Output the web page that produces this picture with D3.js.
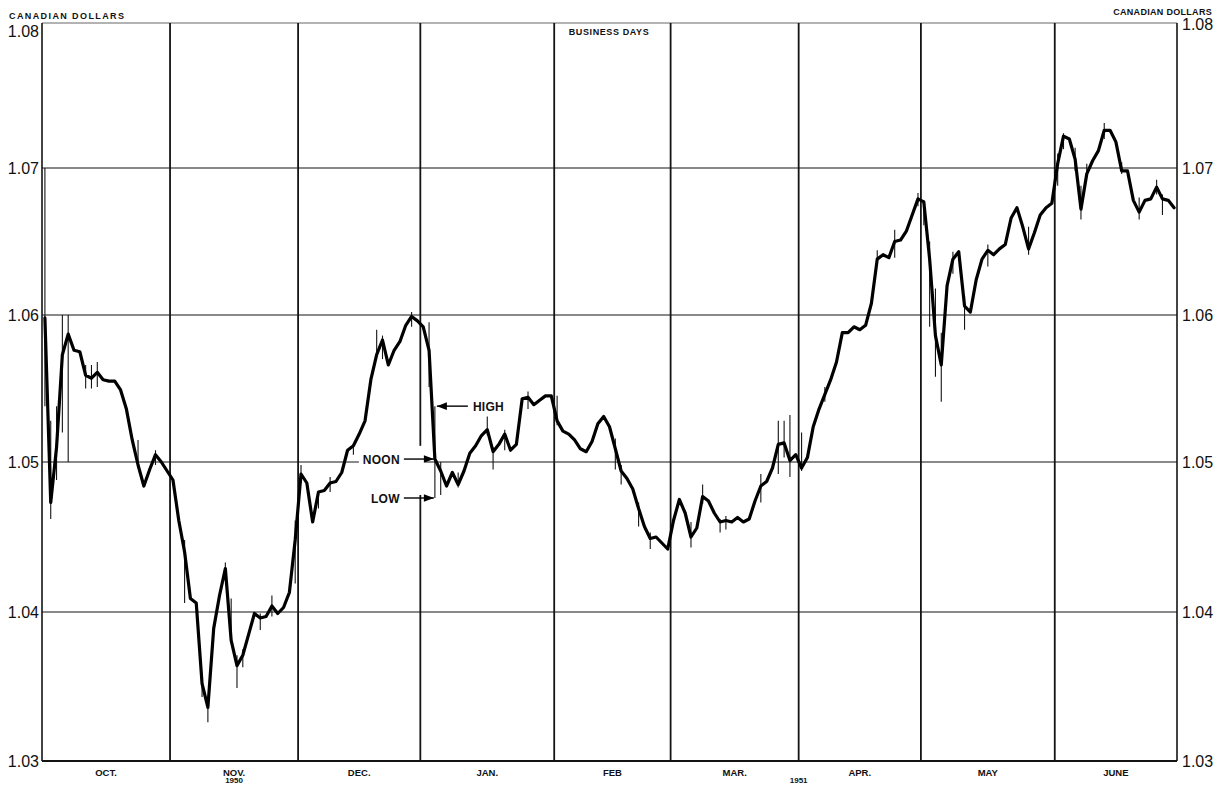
<!DOCTYPE html>
<html><head><meta charset="utf-8">
<script src="https://cdn.jsdelivr.net/npm/d3@7"></script>
<style>
body{margin:0;background:#fff;}
svg{display:block;font-family:"Liberation Sans",Arial,sans-serif;}
</style>
</head><body>
<svg id="chart" width="1220" height="785"></svg>
<script>
// ---------- DATA ----------
const months = ["OCT.","NOV.","DEC.","JAN.","FEB","MAR.","APR.","MAY","JUNE"];
const monthDays = [22,22,21,23,20,22,21,23,21];          // business days per month
const yearLabels = ["1950","1951"];
const yearDays = [33, 130];                               // business-day position of year labels
const yTicks = [1.03,1.04,1.05,1.06,1.07,1.08];
const yTickLabels = ["1.03","1.04","1.05","1.06","1.07","1.08"];

// noon rates, one per business day
const noonOct = [1.0598,1.0473,1.0510,1.0573,1.0587,1.0576,1.0575,1.0559,1.0557,1.0561,1.0556,1.0555,1.0555,1.0549,1.0536,1.0515,1.0498,1.0484,1.0495,1.0505,1.0500,1.0494];
const noonNov = [1.0488,1.0461,1.0440,1.0409,1.0406,1.0352,1.0336,1.0389,1.0411,1.0429,1.0381,1.0364,1.0371,1.0385,1.0399,1.0396,1.0397,1.0404,1.0399,1.0403,1.0413,1.0448];
const noonDec = [1.0492,1.0486,1.0460,1.0480,1.0481,1.0486,1.0487,1.0493,1.0508,1.0511,1.0519,1.0528,1.0556,1.0573,1.0583,1.0566,1.0576,1.0582,1.0593,1.0599,1.0596];
const noonJan = [1.0592,1.0576,1.0502,1.0494,1.0484,1.0493,1.0485,1.0494,1.0506,1.0511,1.0518,1.0522,1.0507,1.0512,1.0519,1.0508,1.0512,1.0543,1.0544,1.0539,1.0542,1.0545,1.0545];
const noonFeb = [1.0528,1.0521,1.0519,1.0515,1.0509,1.0507,1.0514,1.0526,1.0531,1.0524,1.0509,1.0494,1.0489,1.0482,1.0469,1.0457,1.0449,1.0450,1.0446,1.0442];
const noonMar = [1.0461,1.0475,1.0466,1.0450,1.0456,1.0477,1.0474,1.0466,1.0460,1.0461,1.0460,1.0463,1.0460,1.0462,1.0474,1.0484,1.0487,1.0496,1.0512,1.0513,1.0501,1.0505];
const noonApr = [1.0496,1.0503,1.0524,1.0536,1.0546,1.0556,1.0568,1.0588,1.0588,1.0592,1.0590,1.0593,1.0608,1.0638,1.0641,1.0639,1.0650,1.0651,1.0657,1.0668,1.0679];
const noonMay = [1.0677,1.0638,1.0586,1.0566,1.0620,1.0638,1.0643,1.0606,1.0602,1.0624,1.0638,1.0644,1.0641,1.0645,1.0648,1.0666,1.0673,1.0660,1.0645,1.0656,1.0668,1.0673,1.0676];
const noonJun = [1.0703,1.0722,1.0720,1.0706,1.0672,1.0696,1.0705,1.0712,1.0726,1.0726,1.0718,1.0698,1.0698,1.0678,1.0670,1.0678,1.0679,1.0687,1.0679,1.0678,1.0673];

// visible high-low ranges (business-day index, low, high)
const rangeDays  = [0,1,2,3,4,7,8,9,16,19,24,27,28,31,32,33,34,37,39,43,44,47,49,53,57,58,63,66,67,68,71,76,77,79,83,88,98,99,102,104,111,113,116,117,123,126,127,128,130,134,143,146,150,151,152,153,154,156,158,162,169,174,175,177,178,179,182,185,188,191,192];
const rangeLows  = [1.0538,1.0462,1.0488,1.0520,1.0500,1.0550,1.0550,1.0551,1.0496,1.0498,1.0406,1.0343,1.0326,1.0424,1.0379,1.0349,1.0363,1.0388,1.0397,1.0419,1.0486,1.0469,1.0480,1.0505,1.0572,1.0570,1.0592,1.0551,1.0476,1.0478,1.0483,1.0518,1.0495,1.0508,1.0536,1.0525,1.0495,1.0485,1.0457,1.0442,1.0443,1.0472,1.0453,1.0455,1.0473,1.0492,1.0503,1.0490,1.0494,1.0541,1.0636,1.0639,1.0674,1.0661,1.0592,1.0558,1.0541,1.0628,1.0590,1.0633,1.0641,1.0688,1.0713,1.0698,1.0665,1.0694,1.0720,1.0696,1.0665,1.0682,1.0668];
const rangeHighs = [1.0700,1.0528,1.0538,1.0600,1.0600,1.0566,1.0566,1.0568,1.0515,1.0508,1.0448,1.0357,1.0339,1.0433,1.0409,1.0371,1.0375,1.0399,1.0411,1.0461,1.0498,1.0480,1.0490,1.0512,1.0590,1.0586,1.0602,1.0595,1.0538,1.0500,1.0493,1.0531,1.0510,1.0522,1.0548,1.0545,1.0516,1.0498,1.0473,1.0453,1.0460,1.0485,1.0462,1.0464,1.0492,1.0528,1.0528,1.0532,1.0520,1.0551,1.0644,1.0658,1.0683,1.0678,1.0650,1.0618,1.0588,1.0643,1.0613,1.0648,1.0660,1.0710,1.0724,1.0714,1.0688,1.0703,1.0731,1.0704,1.0680,1.0692,1.0682];

// annotation
const annotDay = 67;
const annotLabels = ["HIGH","NOON","LOW"];

// ---------- CHART ----------
const noon = [].concat(noonOct,noonNov,noonDec,noonJan,noonFeb,noonMar,noonApr,noonMay,noonJun);
const totalDays = d3.sum(monthDays);
const bounds = [0].concat(Array.from(d3.cumsum(monthDays)));

const svg = d3.select("#chart");
const X0 = 42, X1 = 1177;
const x = d3.scaleLinear().domain([0,totalDays]).range([X0,X1]);
const y = d3.scaleLinear().domain(yTicks).range([761,612,462,315,168,23]);
const ink = "#141414";

// horizontal grid
svg.append("g").selectAll("line").data(yTicks).join("line")
  .attr("x1",X0).attr("x2",X1)
  .attr("y1",d=>y(d)).attr("y2",d=>y(d))
  .attr("stroke",(d,i)=> i===yTicks.length-1 ? "#666" : ink)
  .attr("stroke-width",(d,i)=> i===0 ? 2.2 : (i===yTicks.length-1 ? 1 : 1.2));

// vertical month lines and borders
svg.append("g").selectAll("line").data(bounds).join("line")
  .attr("x1",d=>x(d)).attr("x2",d=>x(d))
  .attr("y1",y(1.08)).attr("y2",y(1.03))
  .attr("stroke",ink)
  .attr("stroke-width",(d,i)=> (i===0||i===bounds.length-1) ? 1.6 : 1.8);

// white background behind the noon/low labels (interrupts grid)
const aX = x(annotDay+0.5);
svg.append("rect").attr("x",aX-76).attr("y",y(1.0498)-12).attr("width",66).attr("height",36).attr("fill","#fff");
svg.append("rect").attr("x",x(65)-4).attr("y",y(1.0511)).attr("width",8).attr("height",y(1.0478)-y(1.0511)).attr("fill","#fff");

// high-low bars
svg.append("g").selectAll("line").data(rangeDays).join("line")
  .attr("x1",d=>x(d+0.5)).attr("x2",d=>x(d+0.5))
  .attr("y1",(d,i)=>y(rangeLows[i])).attr("y2",(d,i)=>y(rangeHighs[i]))
  .attr("stroke",ink).attr("stroke-width",1.1);

// noon line
svg.append("path").datum(noon)
  .attr("d", d3.line().x((d,i)=>x(i+0.5)).y(d=>y(d)))
  .attr("fill","none").attr("stroke","#000").attr("stroke-width",3.2)
  .attr("stroke-linejoin","round").attr("stroke-linecap","round");

// y labels
const yl = svg.append("g").attr("font-size",16).attr("fill","#111");
yl.selectAll("text.l").data(yTicks).join("text").attr("class","l")
  .attr("x",39).attr("text-anchor","end")
  .attr("y",(d,i)=> i===yTicks.length-1 ? 37 : y(d)+6)
  .text((d,i)=>yTickLabels[i]);
yl.selectAll("text.r").data(yTicks).join("text").attr("class","r")
  .attr("x",1182).attr("text-anchor","start")
  .attr("y",(d,i)=> i===yTicks.length-1 ? 30 : y(d)+6)
  .text((d,i)=>yTickLabels[i]);

// titles
svg.append("text").attr("x",9).attr("y",19).attr("font-size",9).attr("font-weight","bold")
  .attr("letter-spacing",1.4).attr("fill","#111").text("CANADIAN DOLLARS");
svg.append("text").attr("x",1212).attr("y",15).attr("font-size",9).attr("font-weight","bold")
  .attr("text-anchor","end").attr("letter-spacing",0.3).attr("fill","#111").text("CANADIAN DOLLARS");
svg.append("text").attr("x",609).attr("y",35).attr("font-size",9).attr("font-weight","bold")
  .attr("text-anchor","middle").attr("letter-spacing",0.6).attr("fill","#111").text("BUSINESS DAYS");

// month labels
svg.append("g").selectAll("text").data(months).join("text")
  .attr("x",(d,i)=>x((bounds[i]+bounds[i+1])/2)).attr("y",776)
  .attr("text-anchor","middle").attr("font-size",9.5).attr("font-weight","bold")
  .attr("fill","#111").text(d=>d);
svg.append("g").selectAll("text").data(yearLabels).join("text")
  .attr("x",(d,i)=>x(yearDays[i])).attr("y",783)
  .attr("text-anchor","middle").attr("font-size",8).attr("font-weight","bold")
  .attr("fill","#111").text(d=>d);

// annotations
const iA = rangeDays.indexOf(annotDay);
const annVals = [rangeHighs[iA], noon[annotDay], rangeLows[iA]];
function arrowHead(g, tipX, tipY, dir){
  g.append("path").attr("d",`M${tipX},${tipY} L${tipX-dir*10},${tipY-3.8} L${tipX-dir*10},${tipY+3.8} Z`).attr("fill","#000");
}
const ag = svg.append("g");
{
  const yy = y(annVals[0]);
  ag.append("line").attr("x1",aX+2).attr("x2",aX+33).attr("y1",yy).attr("y2",yy).attr("stroke","#000").attr("stroke-width",1.4);
  arrowHead(ag, aX+2, yy, -1);
  ag.append("text").attr("x",aX+38).attr("y",yy+4.5).attr("font-size",12).attr("font-weight","bold").attr("letter-spacing",0.3).attr("fill","#111").text(annotLabels[0]);
}
[1,2].forEach(k=>{
  const yy = y(annVals[k]);
  ag.append("line").attr("x1",aX-31).attr("x2",aX-1).attr("y1",yy).attr("y2",yy).attr("stroke","#000").attr("stroke-width",1.4);
  arrowHead(ag, aX-1, yy, 1);
  ag.append("text").attr("x",aX-35).attr("y",yy+4.5).attr("text-anchor","end").attr("font-size",12).attr("font-weight","bold").attr("letter-spacing",0.3).attr("fill","#111").text(annotLabels[k]);
});
</script>
</body></html>
